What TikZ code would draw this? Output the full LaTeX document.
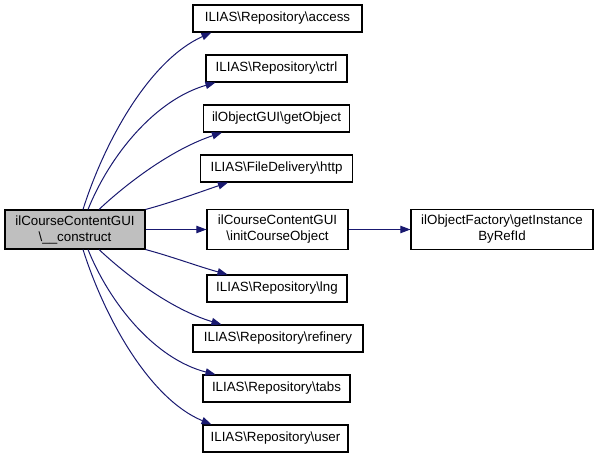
\documentclass[tikz,border=0pt]{standalone}
\usepackage{fontspec}
\setmainfont{Liberation Sans}
\usetikzlibrary{arrows.meta,calc}
\definecolor{edgeblue}{HTML}{191970}
\definecolor{maingray}{HTML}{BFBFBF}
\tikzset{
  fn/.style={draw=black, line width=0.8pt, fill=white, inner sep=0pt, align=center,
    font=\fontsize{10}{12}\selectfont, minimum height=20.25pt},
  fntwo/.style={fn, minimum height=30pt},
  edge/.style={draw=edgeblue, line width=0.75pt, -{Triangle[length=7.5pt,width=5.5pt]}}
}
\begin{document}
\begin{tikzpicture}[x=0.75pt,y=-0.75pt]
\useasboundingbox (0,0) rectangle (599,459);
\node[fntwo, fill=maingray, minimum width=105pt, minimum height=29.25pt] (main) at (75,229.5) {ilCourseContentGUI\\\textbackslash\_\_construct};
\node[fn, minimum width=126.75pt] (access) at (277.5,18.5) {ILIAS\textbackslash Repository\textbackslash access};
\node[fn, minimum width=105.75pt] (ctrl) at (276.5,68.5) {ILIAS\textbackslash Repository\textbackslash ctrl};
\node[fn, minimum width=109.5pt] (getobj) at (276.5,118.5) {ilObjectGUI\textbackslash getObject};
\node[fn, minimum width=114pt] (http) at (276.5,168.5) {ILIAS\textbackslash FileDelivery\textbackslash http};
\node[fntwo, minimum width=105.75pt] (init) at (277.5,229.5) {ilCourseContentGUI\\\textbackslash initCourseObject};
\node[fn, minimum width=105pt] (lng) at (277,288.5) {ILIAS\textbackslash Repository\textbackslash lng};
\node[fn, minimum width=127.5pt] (refinery) at (278,338.5) {ILIAS\textbackslash Repository\textbackslash refinery};
\node[fn, minimum width=110.25pt] (tabs) at (276.5,388.5) {ILIAS\textbackslash Repository\textbackslash tabs};
\node[fn, minimum width=108.75pt] (user) at (275.5,438.5) {ILIAS\textbackslash Repository\textbackslash user};
\node[fntwo, minimum width=136.5pt] (inst) at (502,229.5) {ilObjectFactory\textbackslash getInstance\\ByRefId};

\draw[edge] ($(main.north)+(8,0)$) .. controls (105,140) and (150,60) .. ($(access.south west)+(19,0)$);
\draw[edge] ($(main.north)+(13,0)$) .. controls (110,155) and (155,100) .. ($(ctrl.south west)+(10,0)$);
\draw[edge] ($(main.north)+(24,0)$) .. controls (125,185) and (170,150) .. ($(getobj.south west)+(19,0)$);
\draw[edge] (main.north east) .. controls (170,203) and (200,192) .. ($(http.south west)+(28,0)$);
\draw[edge] (main.east) -- (init.west);
\draw[edge] (main.south east) .. controls (170,256) and (200,267) .. ($(lng.north west)+(21,0)$);
\draw[edge] ($(main.south)+(24,0)$) .. controls (125,274) and (170,309) .. ($(refinery.north west)+(29,0)$);
\draw[edge] ($(main.south)+(13,0)$) .. controls (110,304) and (155,359) .. ($(tabs.north west)+(13,0)$);
\draw[edge] ($(main.south)+(8,0)$) .. controls (105,319) and (150,399) .. ($(user.north west)+(9,0)$);
\draw[edge] (init.east) -- (inst.west);
\end{tikzpicture}
\end{document}
